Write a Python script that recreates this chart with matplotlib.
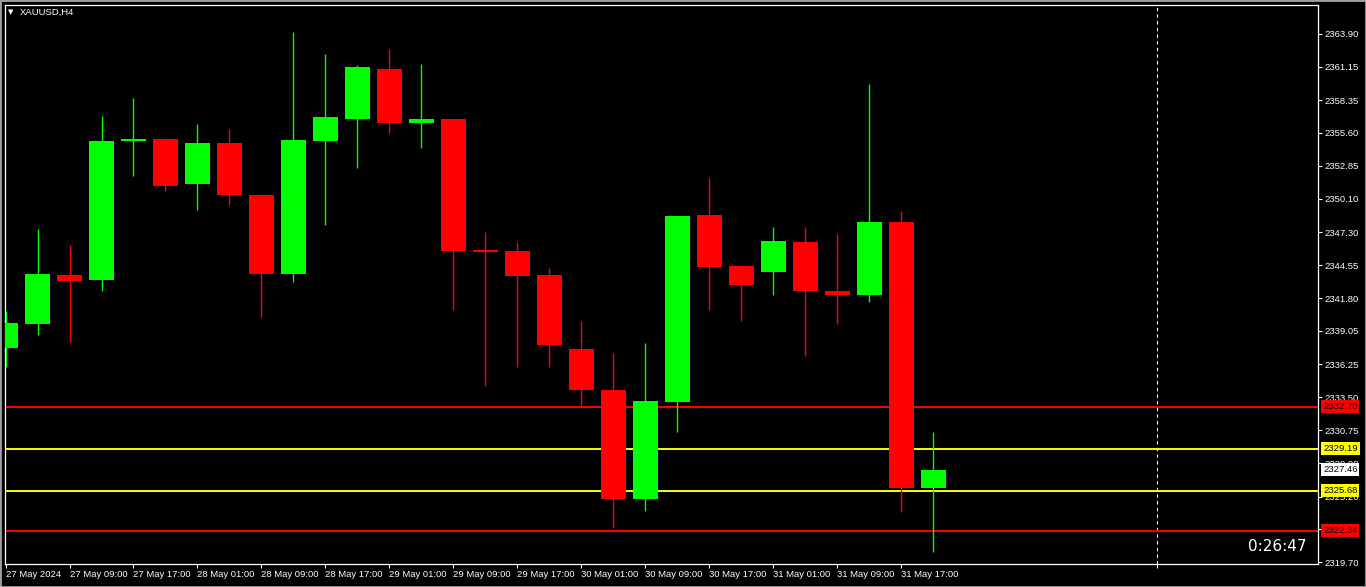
import matplotlib.pyplot as plt
from matplotlib.patches import Rectangle

symbol = "XAUUSD,H4"
timer = "0:26:47"

# H4 candles, 27 May 01:00 .. 31 May 21:00
opens = [2337.65, 2339.65, 2343.72, 2343.33, 2354.95, 2355.10, 2351.36, 2354.76,
         2350.41, 2343.83, 2354.95, 2356.77, 2360.95, 2356.43, 2356.77, 2345.81,
         2345.73, 2343.72, 2337.54, 2334.11, 2325.00, 2333.11, 2348.74, 2344.48,
         2343.98, 2346.48, 2342.39, 2342.05, 2348.16, 2325.91]
highs = [2340.71, 2347.57, 2346.23, 2357.02, 2358.52, 2355.20, 2356.35, 2355.93,
         2350.41, 2364.04, 2362.20, 2361.28, 2362.62, 2361.37, 2356.77, 2347.32,
         2346.48, 2344.31, 2339.88, 2337.20, 2338.04, 2348.66, 2351.83, 2344.56,
         2347.74, 2347.74, 2347.15, 2359.69, 2349.08, 2330.60]
lows = [2336.00, 2338.73, 2338.15, 2342.41, 2352.03, 2350.77, 2349.18, 2349.60,
        2340.24, 2343.16, 2347.93, 2352.70, 2355.60, 2354.34, 2340.80, 2334.47,
        2336.06, 2336.06, 2332.77, 2322.60, 2323.99, 2330.60, 2340.80, 2339.88,
        2342.05, 2336.95, 2339.63, 2341.47, 2323.91, 2320.56]
closes = [2339.71, 2343.81, 2343.25, 2354.93, 2355.10, 2351.19, 2354.76, 2350.44,
          2343.83, 2355.01, 2356.94, 2361.12, 2356.43, 2356.77, 2345.73, 2345.65,
          2343.67, 2337.87, 2334.11, 2325.00, 2333.19, 2348.66, 2344.39, 2342.89,
          2346.57, 2342.39, 2342.05, 2348.16, 2325.91, 2327.46]

time_labels = ["27 May 2024", "27 May 09:00", "27 May 17:00", "28 May 01:00",
               "28 May 09:00", "28 May 17:00", "29 May 01:00", "29 May 09:00",
               "29 May 17:00", "30 May 01:00", "30 May 09:00", "30 May 17:00",
               "31 May 01:00", "31 May 09:00", "31 May 17:00"]

price_ticks = [2363.90, 2361.15, 2358.35, 2355.60, 2352.85, 2350.10, 2347.30,
               2344.55, 2341.80, 2339.05, 2336.25, 2333.50, 2330.75, 2328.00,
               2325.20, 2322.45, 2319.70]

levels = [2332.70, 2329.19, 2325.68, 2322.34]
level_colors = ["#ff0000", "#ffff00", "#ffff00", "#ff0000"]
shift_bar = 36

W, H = 1366, 587
fig = plt.figure(figsize=(W / 100, H / 100), dpi=100, facecolor="black")
ax = fig.add_axes([5 / W, 23 / H, 1313 / W, 559 / H], facecolor="black")

font = "Liberation Sans"
fs = 6.8

n = len(opens)
xs = list(range(n))
cols = ["#00ff00" if c >= o else "#ff0000" for o, c in zip(opens, closes)]
bottoms = [min(o, c) for o, c in zip(opens, closes)]
heights = [max(abs(c - o), 0.12) for o, c in zip(opens, closes)]

ax.vlines(xs, lows, highs, colors=cols, linewidth=1.0, zorder=3)
ax.bar(xs, heights, bottom=bottoms, width=0.78, color=cols, linewidth=0, zorder=4)

for lv, lc in zip(levels, level_colors):
    ax.axhline(lv, color=lc, linewidth=1.4, zorder=2)
    ax.annotate(f"{lv:.2f}", xy=(1.0038, lv), xycoords=("axes fraction", "data"),
                ha="left", va="center", fontsize=fs, family=font, color="black",
                bbox=dict(boxstyle="square,pad=0.2", fc=lc, ec="none"), zorder=6)

ax.annotate(f"{closes[-1]:.2f}", xy=(1.0038, closes[-1]), xycoords=("axes fraction", "data"),
            ha="left", va="center", fontsize=fs, family=font, color="black",
            bbox=dict(boxstyle="square,pad=0.2", fc="white", ec="none"), zorder=6)

ax.axvline(shift_bar, color="white", linewidth=0.8, linestyle=(0, (3, 3)), zorder=1)

ax.set_xlim(-0.016, 41.02)
ax.set_ylim(2319.56, 2366.30)

ax.yaxis.tick_right()
ax.set_yticks(price_ticks)
ax.set_yticklabels([f"{p:.2f}" for p in price_ticks], family=font)
xt = list(range(0, 2 * len(time_labels), 2)) + [shift_bar]
ax.set_xticks(xt)
ax.set_xticklabels(time_labels + [""], family=font, ha="left")
ax.tick_params(axis="both", colors="white", labelcolor="white", labelsize=fs,
               length=3, width=0.8, direction="out")
ax.tick_params(axis="y", pad=1.5)
ax.tick_params(axis="x", pad=1)

for s in ax.spines.values():
    s.set_color("white")
    s.set_linewidth(0.9)

ax.text(0.9916, 0.032, timer, transform=ax.transAxes, ha="right", va="center",
        fontsize=11, color="white", family="DejaVu Sans")

fig.text(8 / W, 1 - 12 / H, "\u25bc", fontsize=5, color="white", va="center",
         family="DejaVu Sans")
fig.text(20 / W, 1 - 12 / H, symbol, fontsize=fs, color="white", va="center",
         family=font)

fig.patches.append(Rectangle((0, 0), 1, 1, transform=fig.transFigure, fill=False,
                             edgecolor="#a0a0a0", linewidth=2))

fig.savefig("out.png", dpi=100, facecolor="black")
